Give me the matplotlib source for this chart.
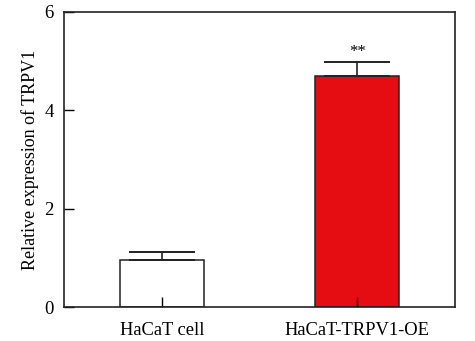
import matplotlib
matplotlib.use("Agg")
import matplotlib.pyplot as plt

categories = ["HaCaT cell", "HaCaT-TRPV1-OE"]
values = [0.96, 4.70]
errors = [0.15, 0.28]
colors = ["white", "#e60d12"]
sig_labels = ["", "**"]
y_ticks = [0, 2, 4, 6]

plt.rcParams["font.family"] = ["Liberation Serif", "DejaVu Serif"]
plt.rcParams["xtick.direction"] = "in"
plt.rcParams["ytick.direction"] = "in"

fig = plt.figure(figsize=(4.75, 3.41), dpi=100)
ax = fig.add_axes([64 / 475, 1 - 307 / 341, 391 / 475, 295 / 341])

x = list(range(len(categories)))
ax.bar(x, values, width=0.43, color=colors, edgecolor="#222222", linewidth=1.1, zorder=2)
ax.errorbar(x, values, yerr=[[0] * len(errors), errors], fmt="none", ecolor="#222222",
            elinewidth=1.2, capsize=23.5, capthick=1.4, zorder=3)
for xi, v, e, s in zip(x, values, errors, sig_labels):
    if s:
        ax.text(xi, v + e + 0.04, s, ha="center", va="bottom", fontsize=12)

ax.set_xlim(-0.5, 1.5)
ax.set_ylim(0, 6)
ax.set_yticks(y_ticks)
ax.set_xticks(x)
ax.set_xticklabels(categories, fontsize=13.3)
ax.tick_params(axis="y", direction="in", length=7, width=1, labelsize=13.5, pad=7.5)
ax.tick_params(axis="x", direction="in", length=7, width=1, pad=11)
for sp in ax.spines.values():
    sp.set_linewidth(1.2)
    sp.set_color("#222222")
    sp.set_zorder(4)
ax.set_axisbelow(False)
ax.set_ylabel("Relative expression of TRPV1", fontsize=13, labelpad=4)

fig.savefig("out.png", dpi=100)
